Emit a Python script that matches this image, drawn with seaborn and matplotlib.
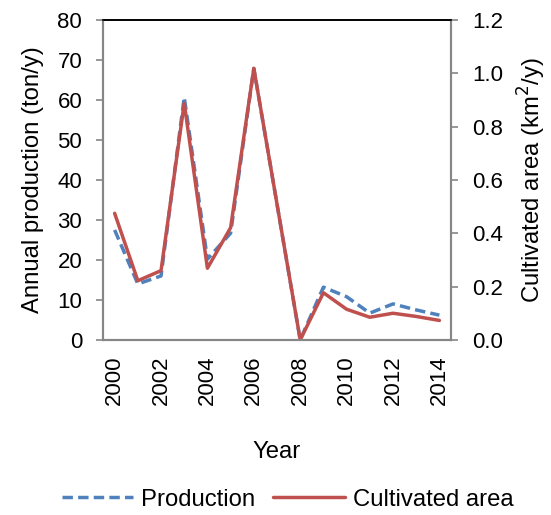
import pandas as pd
import matplotlib.pyplot as plt
import seaborn as sns

# Data (2007 has no visible vertex)
years = [2000, 2001, 2002, 2003, 2004, 2005, 2006, 2008, 2009, 2010, 2011, 2012, 2013, 2014]
production = [27.5, 14.0, 16.0, 60.7, 20.2, 26.7, 67.9, 0.0, 13.2, 10.8, 6.7, 9.0, 7.5, 6.2]
cultivated_area = [0.475, 0.222, 0.26, 0.888, 0.269, 0.421, 1.019, 0.0, 0.177, 0.115, 0.085, 0.10, 0.088, 0.073]
tick_years = [2000, 2002, 2004, 2006, 2008, 2010, 2012, 2014]
area_ticks = [0, 0.2, 0.4, 0.6, 0.8, 1.0, 1.2]

df = pd.DataFrame({'year': years, 'production': production, 'area': cultivated_area})

sns.set_theme(style="white")
plt.rcParams['font.family'] = ['Liberation Sans', 'DejaVu Sans']
plt.rcParams['text.color'] = 'black'
plt.rcParams['axes.labelcolor'] = 'black'

blue = '#4F81BD'
red = '#C0504D'
gray = '#868686'
fs_tick = 16
fs_lab = 17.2

fig, ax = plt.subplots(figsize=(5.51, 5.15), dpi=100)
fig.subplots_adjust(left=0.187, right=0.8185, top=0.961, bottom=0.34)
ax2 = ax.twinx()

sns.lineplot(x='year', y='production', data=df, ax=ax, color=blue, lw=2.5,
             linestyle=(0, (3, 1.5)), label='Production', legend=False)
sns.lineplot(x='year', y='area', data=df, ax=ax2, color=red, lw=2.5,
             label='Cultivated area', legend=False)

ax.set_xlim(1999.5, 2014.5)
ax.set_ylim(0, 80)
ax2.set_ylim(0, 1.2)
ax.set_yticks(range(0, 81, 10))
ax2.set_yticks(area_ticks)
ax2.set_yticklabels([f'{v:.1f}' for v in area_ticks])

# tick marks between categories, labels at category centres
ax.set_xticks([y - 0.5 for y in tick_years])
ax.set_xticklabels([])
ax.set_xticks(tick_years, minor=True)
ax.set_xticklabels([str(y) for y in tick_years], minor=True, rotation=90, fontsize=fs_tick)
ax.tick_params(axis='x', which='minor', length=0, pad=11, labelcolor='black')
ax.tick_params(axis='x', which='major', length=5, width=1.2, color=gray, direction='out')

ax.tick_params(axis='y', length=5, width=1.2, color=gray, labelsize=fs_tick, pad=10,
               direction='out', left=True, labelcolor='black')
ax2.tick_params(axis='y', length=5, width=1.2, color=gray, labelsize=fs_tick, pad=10,
                direction='out', right=True, labelcolor='black')

for a in (ax, ax2):
    for side in ('left', 'right', 'bottom'):
        a.spines[side].set_color(gray)
        a.spines[side].set_linewidth(1.5)
    a.spines['top'].set_color('black')
    a.spines['top'].set_linewidth(1.2)
    a.grid(False)

ax.set_xlabel('Year', fontsize=fs_lab)
ax.xaxis.set_label_coords(0.5, -0.315)
ax.set_ylabel('Annual production (ton/y)', fontsize=fs_lab)
ax.yaxis.set_label_coords(-0.17, 0.5)
ax2.set_ylabel('Cultivated area (km$^2$/y)', fontsize=fs_lab)
ax2.yaxis.set_label_coords(1.185, 0.5)

h1, l1 = ax.get_legend_handles_labels()
h2, l2 = ax2.get_legend_handles_labels()
fig.legend(h1 + h2, l1 + l2, loc='center', bbox_to_anchor=(0.522, 0.03), ncol=2,
           frameon=False, fontsize=fs_lab, handlelength=3.0, handletextpad=0.33,
           columnspacing=0.75, borderpad=0)

plt.savefig('out.png', dpi=100)
plt.close()
